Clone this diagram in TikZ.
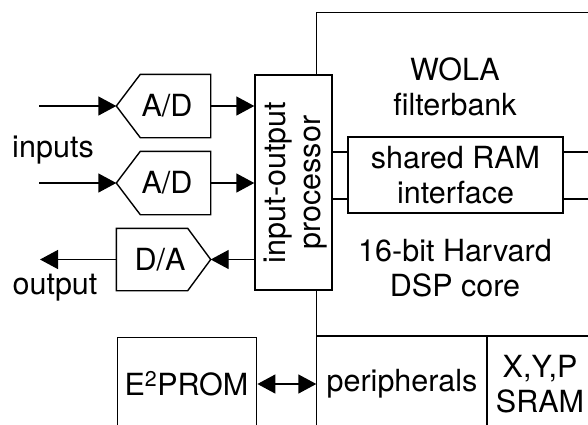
\documentclass[tikz,border=0pt]{standalone}
\usepackage{fontspec}
\setmainfont{TeX Gyre Heros}
\usetikzlibrary{arrows.meta}
\begin{document}
\begin{tikzpicture}[x=1pt,y=-1pt,line width=1.4pt,
  lbl/.style={font=\fontsize{30.5}{35}\selectfont,align=center,inner sep=0pt},
  box/.style={draw,fill=white,inner sep=0pt},
  ghost/.style={inner sep=0pt},
  arr/.style={-{Triangle[length=18pt,width=19pt]}},
  darr/.style={{Triangle[length=18pt,width=19pt]}-{Triangle[length=18pt,width=19pt]}}]
\useasboundingbox (0,0) rectangle (588,424);
\clip (0,0) rectangle (588,424);
% main block
\node[ghost,minimum width=276pt,minimum height=420pt] (main) at (455,223) {};
\draw (main.south west) -- (main.north west) -- (main.north east) -- (main.south east);
\draw (317,336) coordinate (hl) -- (593,336) coordinate (hr);
\draw (487,336) coordinate (vt) -- (487,433) coordinate (vb);
\node[lbl] (wola) at (455,87) {WOLA\\filterbank};
\node[lbl] (dsp) at (455,268) {16-bit Harvard\\DSP core};
\node[lbl] (peri) at (402,384) {peripherals};
\node[lbl] (sram) at (540,384) {X,Y,P\\SRAM};
% shared RAM
\node[box,minimum width=215pt,minimum height=76pt] (ram) at (455.5,175) {};
\node[lbl] at (ram.center) {shared RAM\\interface};
\draw (332,152) coordinate (r1) -- (ram.west |- r1);
\draw (332,199) coordinate (r2) -- (ram.west |- r2);
\draw (ram.east |- r1) -- (593,152);
\draw (ram.east |- r2) -- (593,199);
% IOP
\node[box,minimum width=77pt,minimum height=215pt] (iop) at (293.5,182.5) {};
\node[lbl,rotate=90] at (296,182.5) {input-output\\processor};
% A/D converters
\foreach \n/\y in {ad1/106,ad2/183}{
  \node[ghost,minimum width=93pt,minimum height=62pt] (\n) at (163.5,\y) {};
  \draw (\n.west) -- ([xshift=24pt]\n.north west) -- (\n.north east) -- (\n.south east) -- ([xshift=24pt]\n.south west) -- cycle;
  \node[lbl] at (167,\y) {A/D};
  \coordinate (\n-in) at (39,\y);
  \draw[arr] (\n-in) -- (\n.west);
  \draw[arr] (\n.east) -- (iop.west |- \n.east);
}
\node[lbl] (inputs) at (53,150) {inputs};
% D/A
\node[ghost,minimum width=93pt,minimum height=61pt] (da) at (163.5,259.5) {};
\draw (da.west) -- (da.north west) -- ([xshift=-23pt]da.north east) -- (da.east) -- ([xshift=-23pt]da.south east) -- (da.south west) -- cycle;
\node[lbl] at (160,259.5) {D/A};
\coordinate (out) at (40,259.5);
\draw[arr] (iop.west |- da.east) -- (da.east);
\draw[arr] (da.west) -- (out);
\node[lbl] (output) at (55,288) {output};
% E2PROM
\node[box,minimum width=139pt,minimum height=100pt,anchor=north west] (ep) at (117,337) {};
\node[lbl] at (186.5,384) {E\textsuperscript{2}PROM};
\draw[darr] (ep.east |- peri) -- (main.west |- peri);
\end{tikzpicture}
\end{document}
